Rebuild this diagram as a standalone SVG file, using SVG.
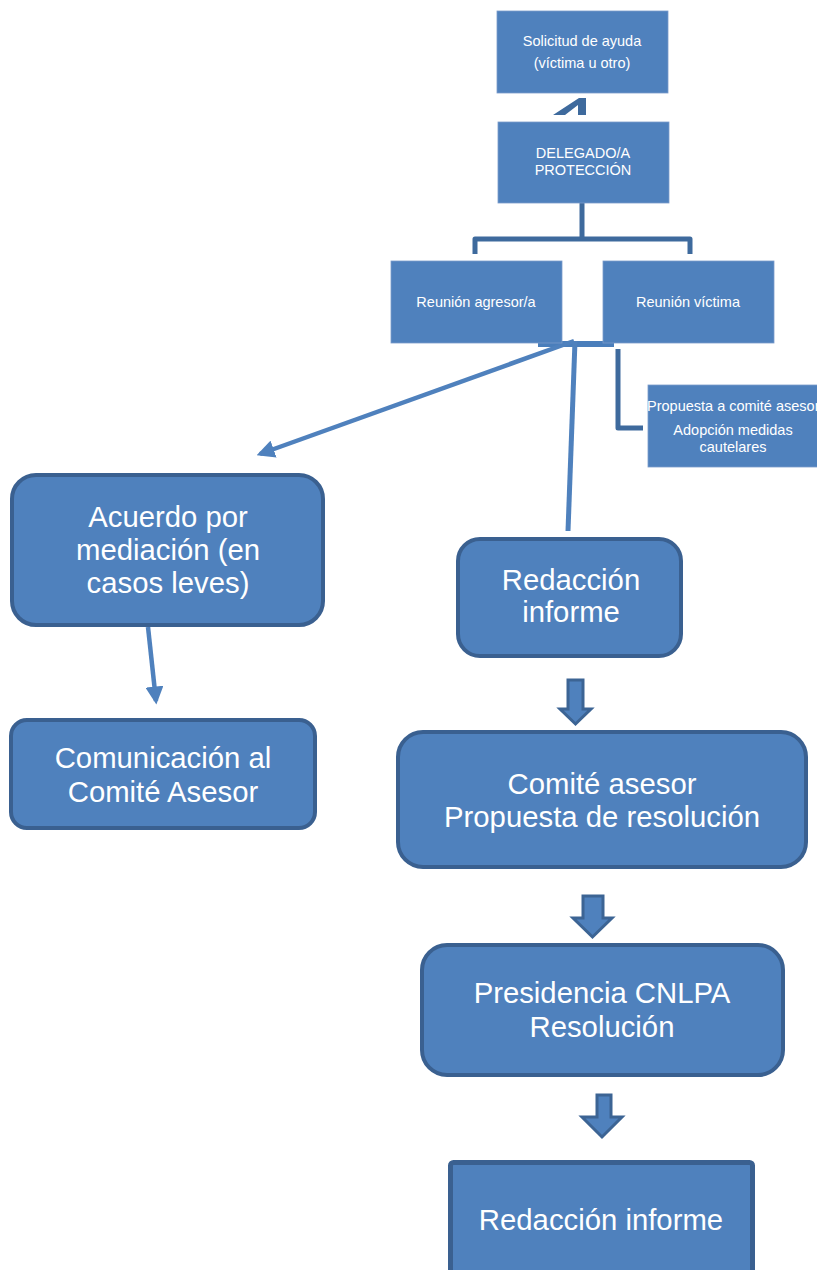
<svg xmlns="http://www.w3.org/2000/svg" width="817" height="1270" viewBox="0 0 817 1270">
<style>
.sq{fill:#4F81BD;stroke:#7A9CCB;stroke-width:0.8}
.rd{fill:#4F81BD;stroke:#3A6090;stroke-width:4}
.st{font-family:"Liberation Sans",Arial,sans-serif;font-size:14.5px;fill:#FFFFFF;text-anchor:middle}
.bt{font-family:"Liberation Sans",Arial,sans-serif;font-size:29.3px;fill:#FFFFFF;text-anchor:middle}
.elb{fill:none;stroke:#3E6A9D;stroke-width:5;stroke-linejoin:round}
.ln{fill:none;stroke:#4F81BD;stroke-width:4.5}
.blk{fill:#4F81BD;stroke:#3C6494;stroke-width:3;stroke-linejoin:miter}
</style>
<defs>
<marker id="ah" viewBox="0 0 10 10" refX="8" refY="5" markerWidth="4" markerHeight="4" orient="auto" markerUnits="strokeWidth">
<path d="M0,0 L10,5 L0,10 Z" fill="#4F81BD"/>
</marker>
</defs>
<rect width="817" height="1270" fill="#FFFFFF"/>
<g id="connectors">
<polygon points="553,115 565,115 578,105 578,115 586,115 586,98 579,98" fill="#3E6A9D"/>
<path class="elb" d="M582,203 V239 M475,254 V239 H690 V254"/>
<rect x="538" y="341" width="76" height="6" fill="#4A7EBB"/>
<path class="elb" d="M618,349 V428 H643"/>
<line class="ln" x1="574" y1="341" x2="260" y2="454" marker-end="url(#ah)"/>
<line class="ln" x1="575" y1="341" x2="568" y2="531" style="stroke-width:5"/>
<line class="ln" x1="148" y1="627" x2="156" y2="701" marker-end="url(#ah)"/>
<path class="blk" d="M568,680 H583 V709 H591 L575.5,724 L560,709 H568 Z"/>
<path class="blk" d="M583,896 H603 V918 H612 L592.5,937 L573,918 H583 Z"/>
<path class="blk" d="M597,1095 H611 V1117 H622 L602,1137 L582,1117 H597 Z"/>
</g>
<g id="solicitud">
<rect class="sq" x="497" y="11" width="171" height="82"/>
<text class="st" x="582" y="46">Solicitud de ayuda</text>
<text class="st" x="582" y="68">(víctima u otro)</text>
</g>
<g id="delegado">
<rect class="sq" x="498" y="122" width="171" height="81"/>
<text class="st" x="583" y="158">DELEGADO/A</text>
<text class="st" x="583" y="175">PROTECCIÓN</text>
</g>
<g id="reunion-agresor">
<rect class="sq" x="391" y="261" width="171" height="82"/>
<text class="st" x="476" y="307">Reunión agresor/a</text>
</g>
<g id="reunion-victima">
<rect class="sq" x="603" y="261" width="171" height="82"/>
<text class="st" x="688" y="307">Reunión víctima</text>
</g>
<g id="propuesta">
<rect class="sq" x="648" y="385" width="175" height="82"/>
<text class="st" x="647" y="411" style="text-anchor:start">Propuesta a comité asesor</text>
<text class="st" x="733" y="435">Adopción medidas</text>
<text class="st" x="733" y="452">cautelares</text>
</g>
<g id="acuerdo">
<rect class="rd" x="12" y="475" width="311" height="150" rx="24"/>
<text class="bt" x="168" y="527">Acuerdo por</text>
<text class="bt" x="168" y="560">mediación (en</text>
<text class="bt" x="168" y="593">casos leves)</text>
</g>
<g id="comunicacion">
<rect class="rd" x="11" y="720" width="304" height="108" rx="16"/>
<text class="bt" x="163" y="768">Comunicación al</text>
<text class="bt" x="163" y="802">Comité Asesor</text>
</g>
<g id="redaccion1">
<rect class="rd" x="458" y="539" width="223" height="117" rx="22"/>
<text class="bt" x="571" y="590">Redacción</text>
<text class="bt" x="571" y="622">informe</text>
</g>
<g id="comite">
<rect class="rd" x="398" y="732" width="408" height="135" rx="25"/>
<text class="bt" x="602" y="794">Comité asesor</text>
<text class="bt" x="602" y="827">Propuesta de resolución</text>
</g>
<g id="presidencia">
<rect class="rd" x="422" y="945" width="361" height="130" rx="25"/>
<text class="bt" x="602" y="1003">Presidencia CNLPA</text>
<text class="bt" x="602" y="1037">Resolución</text>
</g>
<g id="redaccion2">
<rect x="450.5" y="1162.5" width="302" height="130" rx="3" fill="#4F81BD" stroke="#3A6090" stroke-width="5"/>
<text class="bt" x="601" y="1230">Redacción informe</text>
</g>
</svg>
